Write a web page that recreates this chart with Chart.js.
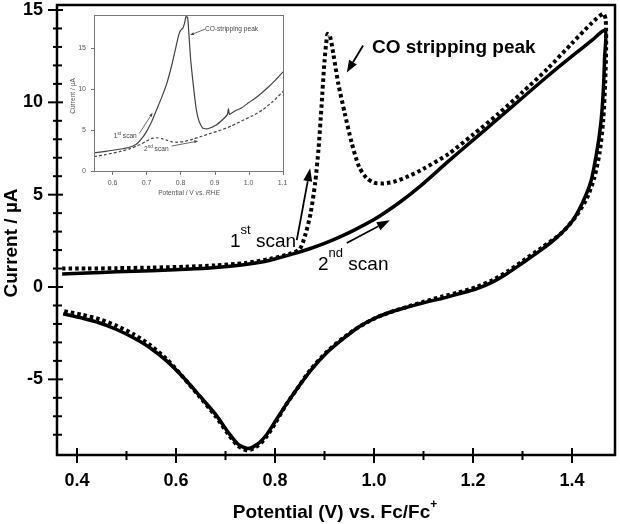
<!DOCTYPE html>
<html><head><meta charset="utf-8">
<script src="https://cdn.jsdelivr.net/npm/chart.js@4/dist/chart.umd.min.js"></script>
<style>
html,body{margin:0;padding:0;background:#fff;}
#wrap{position:relative;width:620px;height:524px;overflow:hidden;}
#main{position:absolute;left:0;top:0;}
#inset{position:absolute;left:60px;top:8px;}
</style></head><body>
<div id="wrap"><canvas id="main" width="620" height="524"></canvas><canvas id="inset" width="240" height="200"></canvas></div>
<script>
// ---------- main chart data (Potential V vs Fc/Fc+, Current µA) ----------
const scan1Potential = [0.37,0.42,0.48,0.55,0.62,0.68,0.74,0.79,0.83,0.85,0.862,0.872,0.881,0.888,0.894,0.900,0.906,0.911,0.918,0.928,0.941,0.955,0.970,0.985,1.000,1.015,1.04,1.07,1.10,1.15,1.20,1.25,1.30,1.35,1.40,1.44,1.463,
  1.468,1.469,1.467,1.463,1.456,1.445,1.43,1.41,1.38,1.34,1.30,1.27,1.24,1.207,1.17,1.14,1.10,1.07,1.04,1.005,0.97,0.938,0.905,0.871,0.845,0.823,0.80,0.783,0.765,0.745,0.725,0.705,0.68,0.648,0.615,0.581,0.548,0.514,0.48,0.446,0.41,0.372];
const scan1Current = [1.00,1.00,1.02,1.05,1.10,1.17,1.30,1.52,1.80,2.05,2.9,4.0,5.6,7.5,9.8,12.2,13.7,13.6,12.6,11.0,9.4,7.8,6.5,5.9,5.65,5.6,5.7,6.0,6.4,7.2,8.25,9.35,10.55,11.8,13.2,14.3,14.8,
  14.5,13.0,11.0,9.0,7.3,5.9,4.8,3.9,2.95,2.15,1.4,0.85,0.38,0.0,-0.3,-0.5,-0.8,-1.05,-1.3,-1.65,-2.15,-2.75,-3.5,-4.5,-5.5,-6.35,-7.4,-8.1,-8.6,-8.85,-8.6,-7.95,-7.0,-5.95,-4.9,-3.9,-3.15,-2.55,-2.1,-1.75,-1.5,-1.3];
const scan2Potential = [0.37,0.42,0.48,0.55,0.62,0.68,0.74,0.79,0.844,0.87,0.90,0.93,0.96,1.00,1.05,1.093,1.15,1.20,1.25,1.30,1.35,1.40,1.44,1.467,
  1.466,1.463,1.458,1.45,1.438,1.42,1.40,1.37,1.34,1.30,1.27,1.24,1.207,1.17,1.14,1.10,1.073,1.04,1.005,0.97,0.938,0.905,0.871,0.845,0.823,0.80,0.783,0.765,0.745,0.725,0.705,0.68,0.648,0.615,0.581,0.548,0.514,0.48,0.446,0.41,0.372];
const scan2Current = [0.70,0.76,0.82,0.88,0.96,1.06,1.22,1.45,1.85,2.07,2.36,2.7,3.08,3.65,4.55,5.45,6.8,7.95,9.1,10.25,11.4,12.5,13.35,13.9,
  12.5,10.5,8.8,7.3,5.7,4.5,3.55,2.7,2.05,1.3,0.75,0.28,-0.1,-0.38,-0.6,-0.85,-1.05,-1.3,-1.65,-2.15,-2.8,-3.55,-4.55,-5.5,-6.35,-7.3,-8.0,-8.5,-8.75,-8.5,-7.85,-6.9,-5.9,-4.9,-4.0,-3.3,-2.75,-2.3,-1.95,-1.68,-1.45];
const xTickValues = [0.4,0.6,0.8,1.0,1.2,1.4];
const xMinorValues = [0.5,0.7,0.9,1.1,1.3];
const yTickValues = [-5,0,5,10,15];
const yMinorValues = [-8,-7,-6,-4,-3,-2,-1,1,2,3,4,6,7,8,9,11,12,13,14];

// ---------- inset data (Potential V vs RHE, Current µA) ----------
const inset1Potential = [0.5456,0.58,0.62,0.65,0.67,0.685,0.70,0.715,0.73,0.745,0.76,0.775,0.786,0.795,0.80,0.807,0.812,0.816,0.821,0.825,0.83,0.837,0.846,0.855,0.866,0.88,0.905,0.925,0.938,0.941,0.944,0.96,0.98,1.00,1.03,1.06,1.08,1.1044];
const inset1Current = [2.2,2.4,2.65,2.9,3.25,3.9,4.8,6.0,7.5,9.0,10.7,13.0,15.0,16.6,17.1,17.4,18.0,18.8,18.7,16.5,13.5,10.7,7.6,6.0,5.2,5.15,5.6,6.3,6.9,7.6,6.9,7.3,7.7,8.3,9.2,10.3,11.1,12.2];
const inset2Potential = [0.5456,0.58,0.62,0.65,0.68,0.70,0.715,0.73,0.745,0.76,0.775,0.79,0.81,0.83,0.86,0.89,0.92,0.95,0.98,1.01,1.04,1.07,1.1044];
const inset2Current = [1.75,2.0,2.35,2.7,3.2,3.65,3.95,4.05,3.95,3.75,3.55,3.5,3.6,3.8,4.2,4.6,5.0,5.5,6.1,6.7,7.4,8.4,9.8];
const insetXTicks = [0.6,0.7,0.8,0.9,1.0,1.1];
const insetYTicks = [0,5,10,15];

const FONT = "'Liberation Sans', Arial, Helvetica, sans-serif";
const toPts = (xs, ys) => xs.map((x, i) => ({x: x, y: ys[i]}));

function arrow(ctx, x1, y1, x2, y2, len, wid, lw) {
  const ang = Math.atan2(y2 - y1, x2 - x1);
  const bx = x2 - len * Math.cos(ang), by = y2 - len * Math.sin(ang);
  ctx.lineWidth = lw;
  ctx.beginPath(); ctx.moveTo(x1, y1); ctx.lineTo(bx, by); ctx.stroke();
  ctx.beginPath(); ctx.moveTo(x2, y2);
  ctx.lineTo(bx + wid / 2 * Math.sin(ang), by - wid / 2 * Math.cos(ang));
  ctx.lineTo(bx - wid / 2 * Math.sin(ang), by + wid / 2 * Math.cos(ang));
  ctx.closePath(); ctx.fill();
}
function runs(ctx, x, y, parts) {
  ctx.textAlign = 'left'; ctx.textBaseline = 'alphabetic';
  let cx = x;
  parts.forEach(p => { ctx.font = p[1]; ctx.fillText(p[0], cx, y + (p[2] || 0)); cx += ctx.measureText(p[0]).width; });
  return cx - x;
}
function runsWidth(ctx, parts) {
  let w = 0; parts.forEach(p => { ctx.font = p[1]; w += ctx.measureText(p[0]).width; }); return w;
}
function line(ctx, a, b, c, d) { ctx.beginPath(); ctx.moveTo(a, b); ctx.lineTo(c, d); ctx.stroke(); }
function noPad(s) { s.paddingTop = 0; s.paddingBottom = 0; s.paddingLeft = 0; s.paddingRight = 0; }

const mainDecor = {
  id: 'mainDecor',
  afterDraw(chart) {
    const ctx = chart.ctx, a = chart.chartArea, x = chart.scales.x, y = chart.scales.y;
    const P = (xv, yv) => [x.getPixelForValue(xv), y.getPixelForValue(yv)];
    ctx.save();
    ctx.strokeStyle = '#000'; ctx.fillStyle = '#000'; ctx.lineCap = 'butt';
    ctx.lineWidth = 2.5;
    ctx.strokeRect(a.left, a.top, a.right - a.left, a.bottom - a.top);
    ctx.lineWidth = 2;
    xTickValues.forEach(v => { const p = x.getPixelForValue(v); line(ctx, p, a.bottom - 7, p, a.bottom + 8); });
    xMinorValues.forEach(v => { const p = x.getPixelForValue(v); line(ctx, p, a.bottom - 4, p, a.bottom + 5); });
    yTickValues.forEach(v => { const p = y.getPixelForValue(v); line(ctx, a.left - 9, p, a.left + 6, p); });
    yMinorValues.forEach(v => { const p = y.getPixelForValue(v); line(ctx, a.left - 4, p, a.left + 5, p); });

    const B19 = 'bold 19px ' + FONT, R19 = '19px ' + FONT, R13 = '13px ' + FONT;
    let t = P(0.996, 12.65);
    runs(ctx, t[0], t[1], [['CO stripping peak', B19]]);
    let s = P(0.978, 13.08), e = P(0.945, 11.62);
    arrow(ctx, s[0], s[1], e[0], e[1], 12, 9, 1.8);

    t = P(0.709, 2.16);
    runs(ctx, t[0], t[1], [['1', R19], ['st', R13, -13], [' scan', R19]]);
    s = P(0.844, 2.54); e = P(0.871, 6.43);
    arrow(ctx, s[0], s[1], e[0], e[1], 13, 9, 1.8);

    t = P(0.887, 0.92);
    runs(ctx, t[0], t[1], [['2', R19], ['nd', R13, -13], [' scan', R19]]);
    s = P(0.945, 2.38); e = P(1.032, 3.62);
    arrow(ctx, s[0], s[1], e[0], e[1], 13, 9, 1.8);

    const xt = [['Potential (V) vs. Fc/Fc', B19], ['+', 'bold 12px ' + FONT, -10]];
    const w = runsWidth(ctx, xt);
    runs(ctx, (a.left + a.right) / 2 - 1 - w / 2, a.bottom + 63, xt);
    ctx.translate(a.left - 40, (a.top + a.bottom) / 2 + 13);
    ctx.rotate(-Math.PI / 2);
    ctx.font = B19; ctx.textAlign = 'center'; ctx.textBaseline = 'alphabetic';
    ctx.fillText('Current / µA', 0, 0);
    ctx.restore();
  }
};

new Chart(document.getElementById('main'), {
  type: 'scatter',
  data: { datasets: [
    { label: '1st scan', data: toPts(scan1Potential, scan1Current), showLine: true, borderColor: '#000', borderWidth: 4,
      borderDash: [3.5, 3], borderCapStyle: 'butt', pointRadius: 0, tension: 0.25, fill: false },
    { label: '2nd scan', data: toPts(scan2Potential, scan2Current), showLine: true, borderColor: '#000', borderWidth: 3.5,
      borderJoinStyle: 'round', pointRadius: 0, tension: 0.25, fill: false }
  ]},
  options: {
    responsive: false, animation: false, devicePixelRatio: 1,
    layout: { padding: { top: 5, right: 5, left: 0, bottom: 0 } },
    plugins: { legend: { display: false }, tooltip: { enabled: false } },
    scales: {
      x: { type: 'linear', min: 0.3596, max: 1.4869,
        afterFit(s) { s.height = 69; noPad(s); },
        afterBuildTicks(s) { s.ticks = xTickValues.map(v => ({ value: v })); },
        grid: { display: false, drawTicks: false }, border: { display: false },
        ticks: { color: '#000', font: { family: FONT, size: 18, weight: 'bold' }, padding: 15, maxRotation: 0, autoSkip: false,
          callback: v => Number(v).toFixed(1) } },
      y: { type: 'linear', min: -9.097, max: 15.271,
        afterFit(s) { s.width = 57; noPad(s); },
        afterBuildTicks(s) { s.ticks = yTickValues.map(v => ({ value: v })); },
        grid: { display: false, drawTicks: false }, border: { display: false },
        ticks: { color: '#000', font: { family: FONT, size: 18, weight: 'bold' }, padding: 14, autoSkip: false,
          callback: v => String(v) } }
    }
  },
  plugins: [mainDecor]
});

// ---------- inset ----------
const insetDecor = {
  id: 'insetDecor',
  afterDraw(chart) {
    const ctx = chart.ctx, a = chart.chartArea, x = chart.scales.x, y = chart.scales.y;
    const P = (xv, yv) => [x.getPixelForValue(xv), y.getPixelForValue(yv)];
    ctx.save();
    ctx.strokeStyle = '#777'; ctx.fillStyle = '#444'; ctx.lineWidth = 1;
    ctx.strokeRect(a.left + 0.5, a.top + 0.5, a.right - a.left - 1, a.bottom - a.top - 1);
    insetXTicks.forEach(v => { const p = Math.round(x.getPixelForValue(v)) + 0.5; line(ctx, p, a.bottom, p, a.bottom + 3); });
    insetYTicks.forEach(v => { const p = Math.round(y.getPixelForValue(v)) + 0.5; line(ctx, a.left - 3, p, a.left, p); });

    ctx.strokeStyle = '#444';
    const F = '6.6px ' + FONT, S = '4.5px ' + FONT;
    let t = P(0.872, 17.03);
    runs(ctx, t[0], t[1], [['CO-stripping peak', F]]);
    let s = P(0.872, 17.27), e = P(0.828, 16.55);
    arrow(ctx, s[0], s[1], e[0], e[1], 4, 3, 0.8);
    t = P(0.604, 4.05);
    runs(ctx, t[0], t[1], [['1', F], ['st', S, -3], [' scan', F]]);
    s = P(0.679, 4.59); e = P(0.718, 7.09);
    arrow(ctx, s[0], s[1], e[0], e[1], 4, 3, 0.8);
    t = P(0.693, 2.47);
    runs(ctx, t[0], t[1], [['2', F], ['nd', S, -3], [' scan', F]]);
    s = P(0.774, 3.04); e = P(0.852, 3.65);
    arrow(ctx, s[0], s[1], e[0], e[1], 4, 3, 0.8);

    ctx.fillStyle = '#555';
    const xt = [['Potential / V vs. ', F], ['RHE', 'italic ' + F]];
    const w = runsWidth(ctx, xt);
    runs(ctx, (a.left + a.right) / 2 - w / 2, a.bottom + 23, xt);
    ctx.translate(a.left - 19, (a.top + a.bottom) / 2 + 2.5);
    ctx.rotate(-Math.PI / 2);
    ctx.font = F; ctx.textAlign = 'center'; ctx.textBaseline = 'alphabetic';
    ctx.fillText('Current / µA', 0, 0);
    ctx.restore();
  }
};

new Chart(document.getElementById('inset'), {
  type: 'scatter',
  data: { datasets: [
    { label: '1st scan', data: toPts(inset1Potential, inset1Current), showLine: true, borderColor: '#444', borderWidth: 1.2,
      pointRadius: 0, tension: 0.15, fill: false },
    { label: '2nd scan', data: toPts(inset2Potential, inset2Current), showLine: true, borderColor: '#444', borderWidth: 1.2,
      borderDash: [3, 2], pointRadius: 0, tension: 0.15, fill: false }
  ]},
  options: {
    responsive: false, animation: false, devicePixelRatio: 1,
    layout: { padding: { top: 7, right: 16, left: 0, bottom: 0 } },
    plugins: { legend: { display: false }, tooltip: { enabled: false } },
    scales: {
      x: { type: 'linear', min: 0.5456, max: 1.1044,
        afterFit(s) { s.height = 36; noPad(s); },
        afterBuildTicks(s) { s.ticks = insetXTicks.map(v => ({ value: v })); },
        grid: { display: false, drawTicks: false }, border: { display: false },
        ticks: { color: '#555', font: { family: FONT, size: 7 }, padding: 7, maxRotation: 0, autoSkip: false,
          callback: v => Number(v).toFixed(1) } },
      y: { type: 'linear', min: -0.12, max: 19.0,
        afterFit(s) { s.width = 34; noPad(s); },
        afterBuildTicks(s) { s.ticks = insetYTicks.map(v => ({ value: v })); },
        grid: { display: false, drawTicks: false }, border: { display: false },
        ticks: { color: '#555', font: { family: FONT, size: 7 }, padding: 8, autoSkip: false,
          callback: v => String(v) } }
    }
  },
  plugins: [insetDecor]
});
</script>
</body></html>
